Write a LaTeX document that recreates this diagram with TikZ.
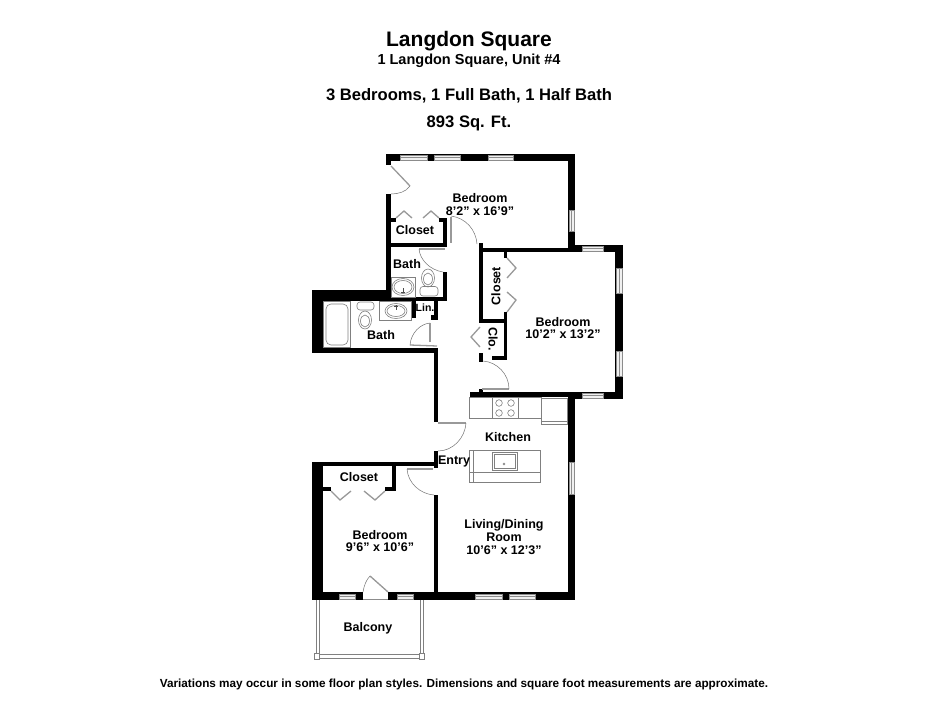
\documentclass[tikz,border=0pt]{standalone}
\usepackage{fontspec}
\setmainfont{Liberation Sans}
\tikzset{
  fix/.style={draw=black!50,line width=0.6pt},
  leaf/.style={draw=black!40,line width=1.3pt},
  swing/.style={draw=black!55,line width=0.5pt},
  win/.style={draw=black!45,fill=black!6,line width=0.7pt},
  lab/.style={font=\bfseries\fontsize{12.5}{12.7}\selectfont,align=center,inner sep=0pt},
  head/.style={font=\bfseries\fontsize{16.6}{18}\selectfont,inner sep=0pt},
}
\begin{document}
\begin{tikzpicture}[x=1pt,y=-1pt]
\useasboundingbox[fill=white] (0,0) rectangle (932,720);
% walls
\foreach \a/\b/\c/\d in {
 386/154/575/161, 386/154/391/165, 386/194/391/290,
 391/218/396/222, 439/218/447/222, 443/218/447/247, 391/243/447/247,
 568/154/575/252, 479/243/483/319, 479/248/582/252, 573/245/623/252,
 615/245/623/399, 470/392/575/397, 568/392/623/399,
 504/252/507/258, 504/312/507/360, 479/319/507/323, 492/356/507/360, 479/353/483/362, 479/389/483/396,
 443/272/447/301, 312/290/391/301, 386/297/447/301,
 312/290/323/353, 312/348/438/353, 434/348/438/422,
 411/301/416/318, 434/301/438/320, 431/315/434/320,
 434/451/438/468, 312/462/438/466, 312/462/323/600,
 392/466/396/491, 385/487/396/491, 323/487/331/491,
 434/495/438/600, 312/592/363/600, 388/592/575/600, 568/392/575/600}
 {\fill[black] (\a,\b) rectangle (\c,\d);}
% windows in horizontal walls
\foreach \a/\b/\c/\d in {
 400/155/427/160, 434/155/460/160, 488/155/513/160,
 582/246/603/251, 582/393/603/398,
 339/594/355/599, 397/594/413/599, 475/594/502/599, 509/594/535/599}
 {\draw[win] (\a,\b) rectangle (\c,\d); \draw[black!45,line width=0.4pt] (\a,{(\b+\d)/2}) -- (\c,{(\b+\d)/2});}
% windows in vertical walls
\foreach \a/\b/\c/\d in {
 569/210/574/231, 616/268/622/293, 616/351/622/376, 569/462/574/494}
 {\draw[win] (\a,\b) rectangle (\c,\d); \draw[black!45,line width=0.4pt] ({(\a+\c)/2},\b) -- ({(\a+\c)/2},\d);}
% doors
\draw[leaf] (391,166) -- (410,186);
\draw[swing] (410,186) .. controls (406,192) and (398,194) .. (391,194);
\draw[leaf] (451,217) -- (451,243);
\draw[swing] (451,216) .. controls (466,218) and (476,230) .. (477,244);
\draw[leaf] (419,249) -- (445,249);
\draw[swing] (419,249) .. controls (420,260) and (430,270) .. (443,272);
\draw[leaf] (482,389) -- (509,389);
\draw[swing] (483,361) .. controls (497,362) and (509,374) .. (509,389);
\draw[leaf] (410,345) -- (437,346);
\draw[swing] (410,345) .. controls (411,333) and (420,324) .. (430,323);
\draw[leaf] (430,323) -- (430,342);
\draw[leaf] (438,423) -- (466,423);
\draw[swing] (466,423) .. controls (465,438) and (453,451) .. (438,451);
\draw[leaf] (407,469) -- (433,469);
\draw[swing] (407,469) .. controls (408,483) and (420,494) .. (434,495);
\draw[leaf] (388,592) -- (370,576);
\draw[swing] (370,576) .. controls (366,580) and (364,586) .. (363,592);
\draw[black!45,line width=0.6pt] (363,599.5) -- (388,599.5);
% bifold doors
\draw[leaf] (396,218) -- (404,211) -- (412,218);
\draw[leaf] (423,218) -- (431,211) -- (439,218);
\draw[leaf] (507,258) -- (516,268) -- (507,278);
\draw[leaf] (507,292) -- (516,300) -- (507,312);
\draw[leaf] (480,327) -- (471,337) -- (480,347);
\draw[leaf] (331,491) -- (340,500) -- (351,491);
\draw[leaf] (364,491) -- (375,500) -- (385,491);
% upper bath fixtures
\draw[fix] (391,277) rectangle (415,297);
\draw[fix] (403,287) ellipse (11 and 8.5);
\draw[fix] (403,287) ellipse (9 and 6.5);
\draw[black!70,line width=0.5pt] (403,288) -- (403,293) (401,292) -- (405,292);
\draw[fix] (428,278) ellipse (6.5 and 9);
\draw[fix] (428,279) ellipse (4.5 and 6);
\draw[fix,rounded corners=3pt] (420,286.5) rectangle (438,296);
% lower bath fixtures
\draw[fix] (323,301) rectangle (350,347);
\draw[fix,rounded corners=5pt] (326,304) rectangle (348,345);
\draw[fix,rounded corners=3pt] (357,302) rectangle (374,310);
\draw[fix] (365,320) ellipse (6.5 and 9);
\draw[fix] (365,321) ellipse (4.5 and 6);
\draw[fix] (379,301) rectangle (411,320);
\draw[fix] (396,311) ellipse (11 and 7.5);
\draw[fix] (396,311) ellipse (9 and 5.5);
\draw[black!70,line width=0.5pt] (396,305) -- (396,310) (394,306) -- (398,306);
% kitchen
\draw[fix] (469,397) rectangle (541,418);
\draw[fix] (492,397) rectangle (518,418);
\foreach \x/\y in {499/403,511/403,499/413,511/413}{\draw[fix] (\x,\y) circle (3.3);}
\draw[fix] (541,398) rectangle (567,421);
\draw[fix] (541,421) rectangle (567,424);
\draw[fix] (469,450) rectangle (540,482);
\draw[fix] (469,472) -- (540,472);
\draw[fix] (473,450) -- (473,482);
\draw[fix] (492,452) rectangle (517,470);
\draw[fix] (494,454) rectangle (515,468);
\draw[fix] (504,464) circle (1);
% balcony
\draw[fix] (316,600) -- (316,655);
\draw[fix] (319,600) -- (319,655);
\draw[fix] (420,600) -- (420,655);
\draw[fix] (423,600) -- (423,655);
\draw[fix] (316,654) rectangle (423,658);
\draw[fix,fill=white] (314,653) rectangle (319,659);
\draw[fix,fill=white] (419,653) rectangle (424,659);
% text
\node[inner sep=0pt,font=\bfseries\fontsize{21}{23}\selectfont] (t1) at (469,41) {Langdon Square};
\node[inner sep=0pt,font=\bfseries\fontsize{14.5}{16}\selectfont] (t2) at (469,61) {1 Langdon Square, Unit \#4};
\node[head] (t3) at (469,96) {3 Bedrooms, 1 Full Bath, 1 Half Bath};
\node[head] (t4) at (469,123) {893 Sq. Ft.};
\node[lab] (b1) at (480,204.5) {Bedroom\\8’2” x 16’9”};
\node[lab] (c1) at (415,230) {Closet};
\node[lab] (ba1) at (407,264) {Bath};
\node[lab,rotate=90] (c2) at (496,286) {Closet};
\node[lab,rotate=-90] (c3) at (493,339) {Clo.};
\node[lab,font=\bfseries\fontsize{10.5}{11}\selectfont] (lin) at (425,308) {Lin.};
\node[lab] (ba2) at (381,335) {Bath};
\node[lab] (b2) at (563,328) {Bedroom\\10’2” x 13’2”};
\node[lab] (k) at (508,437) {Kitchen};
\node[lab] (e) at (454,461) {Entry};
\node[lab] (c4) at (359,477) {Closet};
\node[lab] (b3) at (380,541) {Bedroom\\9’6” x 10’6”};
\node[lab] (l) at (504,537) {Living/Dining\\Room\\10’6” x 12’3”};
\node[lab] (bal) at (368,628) {Balcony};
\node[inner sep=0pt,font=\bfseries\fontsize{11.75}{12}\selectfont] (foot) at (464,684) {Variations may occur in some floor plan styles. Dimensions and square foot measurements are approximate.};
\end{tikzpicture}
\end{document}
